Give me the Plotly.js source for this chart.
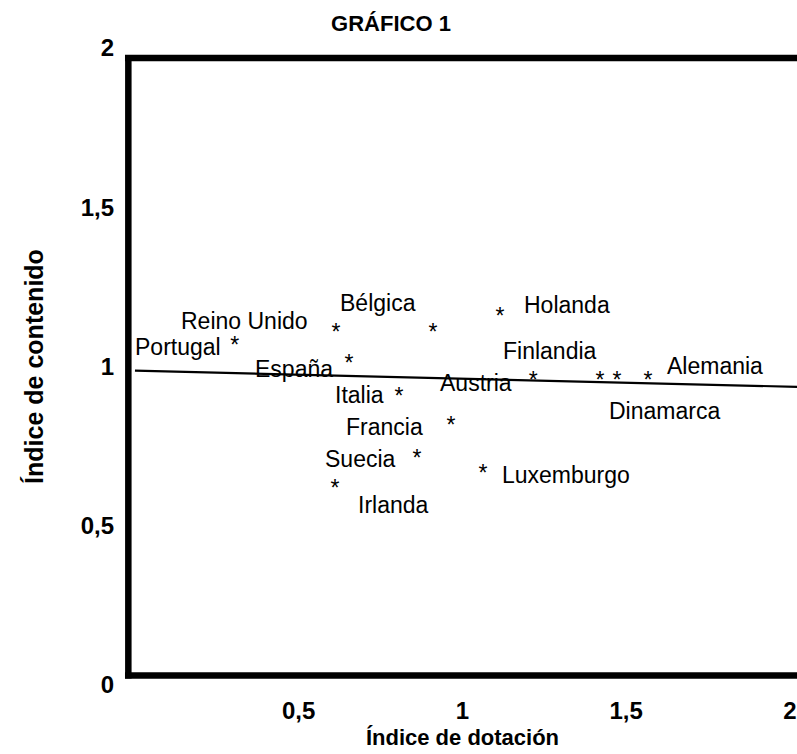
<!DOCTYPE html>
<html>
<head>
<meta charset="utf-8">
<script src="https://cdn.plot.ly/plotly-3.0.1.min.js"></script>
<style>
  html, body { margin: 0; padding: 0; background: #ffffff; }
  #chart { width: 797px; height: 754px; }
</style>
</head>
<body>
<div id="chart"></div>
<script>
// ---- Data ----
const countries = ["Reino Unido", "Bélgica", "Holanda", "Portugal", "España", "Austria",
                   "Finlandia", "Dinamarca", "Alemania", "Italia", "Francia", "Suecia",
                   "Luxemburgo", "Irlanda"];
const dotacion  = [0.614, 0.910, 1.115, 0.305, 0.654, 1.216,
                   1.420, 1.472, 1.567, 0.806, 0.965, 0.861,
                   1.063, 0.611];
const contenido = [1.100, 1.100, 1.150, 1.059, 1.005, 0.952,
                   0.952, 0.952, 0.952, 0.899, 0.808, 0.707,
                   0.660, 0.613];
// regression line end points
const lineX = [0, 2.022];
const lineY = [0.987, 0.936];
// tick labels
const tickVals = [0, 0.5, 1, 1.5, 2];
const tickText = ["0", "0,5", "1", "1,5", "2"];
const xTickVals = [0.5, 1, 1.5, 2];
const xTickText = ["0,5", "1", "1,5", "2"];

// ---- label placement (pixel offsets from each point) ----
const labelShift = {
  "Reino Unido": [-92, 14], "Bélgica": [-55, 32], "Holanda": [67, 14],
  "Portugal": [-57, 1], "España": [-55, -4], "Austria": [-57, -1],
  "Finlandia": [-50, 31], "Dinamarca": [48, -29], "Alemania": [67, 16],
  "Italia": [-39, 4], "Francia": [-66, 1], "Suecia": [-56, 1],
  "Luxemburgo": [83, 0], "Irlanda": [58, -15]
};

const sans = "Liberation Sans, Arial, Helvetica, sans-serif";
const labelFont = { family: sans, size: 23, color: "#000000" };
const tickFont  = { family: sans, size: 24, color: "#000000", weight: "bold" };

const traces = [
  {
    type: "scatter", mode: "lines", x: lineX, y: lineY,
    line: { color: "#000000", width: 2.2 }, hoverinfo: "skip", showlegend: false
  },
  {
    type: "scatter", mode: "text", x: dotacion, y: contenido,
    text: countries.map(() => "*"), textposition: "middle center",
    textfont: labelFont, cliponaxis: false, showlegend: false,
    hovertext: countries
  }
];

const annotations = countries.map((c, i) => ({
  x: dotacion[i], y: contenido[i], xref: "x", yref: "y",
  text: c, showarrow: false, font: labelFont,
  xanchor: "center", yanchor: "middle",
  xshift: labelShift[c][0], yshift: labelShift[c][1]
}));

const frameLine = { color: "#000000", width: 6.5 };
const shapes = [
  { type: "line", xref: "paper", yref: "paper", x0: 0.0005, x1: 0.0005, y0: 0.0102, y1: 0.989, line: frameLine },
  { type: "line", xref: "paper", yref: "paper", x0: -0.0045, x1: 1.02, y0: 0.9843, y1: 0.9843, line: frameLine },
  { type: "line", xref: "paper", yref: "paper", x0: -0.0045, x1: 1.02, y0: 0.0149, y1: 0.0149, line: frameLine }
];

const layout = {
  width: 797, height: 754,
  paper_bgcolor: "#ffffff", plot_bgcolor: "#ffffff",
  margin: { l: 128, r: 0, t: 48, b: 69 },
  title: {
    text: "GRÁFICO 1", font: { family: sans, size: 22, color: "#000000", weight: "bold" },
    x: 391 / 797, xref: "container", xanchor: "center",
    y: 1 - 23 / 754, yref: "container", yanchor: "middle"
  },
  xaxis: {
    range: [-0.0213, 2.022], showgrid: false, zeroline: false, showline: false,
    tickmode: "array", tickvals: xTickVals, ticktext: xTickText,
    ticks: "", tickfont: tickFont, ticklabelstandoff: 9, ticklabeloverflow: "allow",
    title: { text: "Índice de dotación", font: { family: sans, size: 22, color: "#000000", weight: "bold" }, standoff: 6 },
    automargin: false, fixedrange: true
  },
  yaxis: {
    range: [0, 2], showgrid: false, zeroline: false, showline: false,
    tickmode: "array", tickvals: tickVals, ticktext: tickText,
    ticks: "", tickfont: tickFont, ticklabelstandoff: 13, ticklabeloverflow: "allow",
    title: { text: "Índice de contenido", font: { family: sans, size: 25, color: "#000000", weight: "bold" }, standoff: 29 },
    automargin: false, fixedrange: true
  },
  shapes: shapes,
  annotations: annotations,
  showlegend: false
};

Plotly.newPlot("chart", traces, layout, { displayModeBar: false, staticPlot: true });
</script>
</body>
</html>
